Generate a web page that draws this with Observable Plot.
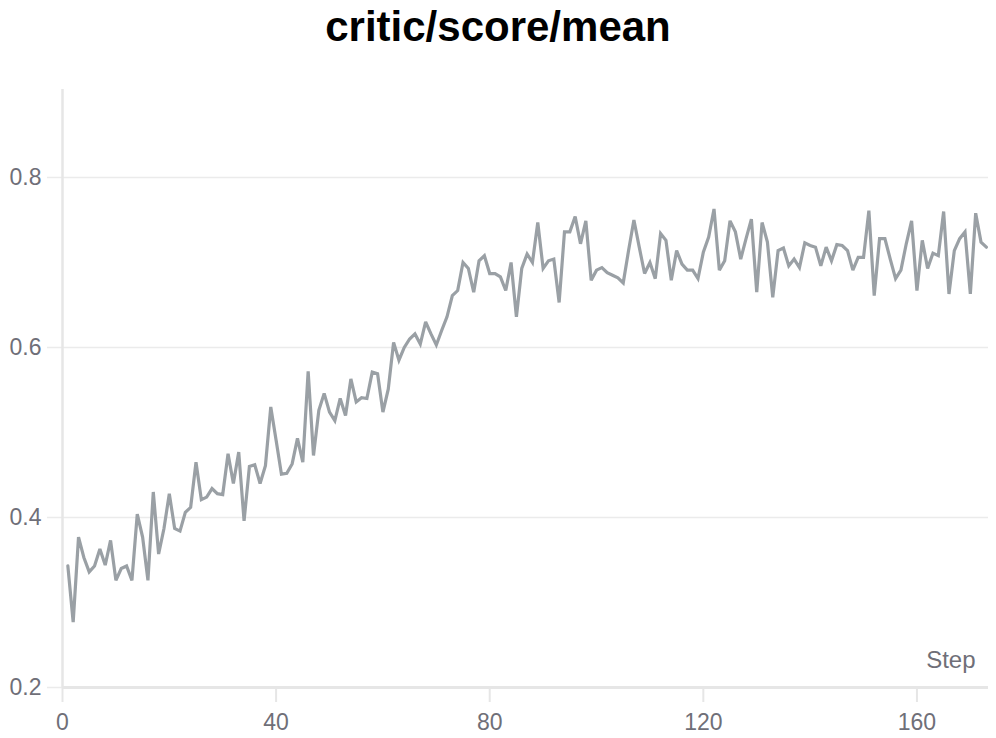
<!DOCTYPE html>
<html><head><meta charset="utf-8">
<script src="https://cdn.jsdelivr.net/npm/d3@7"></script>
<script src="https://cdn.jsdelivr.net/npm/@observablehq/plot@0.6"></script>
<style>
body{margin:0;background:#fff;font-family:"Liberation Sans",Arial,sans-serif;}
#title{height:70px;text-align:center;font-weight:bold;font-size:42px;line-height:54px;color:#000;}
</style></head><body>
<div id="title">critic/score/mean</div>
<div id="chart"></div>
<script>
const steps = d3.range(1, 174);
const scores = [
0.343,0.277,0.377,0.353,0.336,0.343,0.363,0.344,0.373,0.326,
0.340,0.343,0.326,0.404,0.377,0.326,0.430,0.357,0.387,0.428,
0.387,0.384,0.406,0.412,0.465,0.421,0.424,0.434,0.428,0.427,
0.475,0.440,0.477,0.396,0.460,0.462,0.440,0.461,0.530,0.491,
0.451,0.452,0.463,0.493,0.465,0.572,0.473,0.526,0.546,0.524,
0.514,0.540,0.520,0.563,0.536,0.541,0.540,0.571,0.569,0.524,
0.551,0.606,0.585,0.600,0.610,0.616,0.604,0.630,0.616,0.603,
0.620,0.636,0.661,0.667,0.700,0.693,0.665,0.702,0.708,0.687,
0.687,0.683,0.667,0.700,0.636,0.693,0.710,0.700,0.747,0.693,
0.702,0.704,0.653,0.736,0.736,0.754,0.722,0.749,0.679,0.691,
0.694,0.688,0.685,0.682,0.676,0.714,0.750,0.718,0.687,0.700,
0.681,0.734,0.726,0.679,0.714,0.698,0.691,0.691,0.681,0.712,
0.730,0.763,0.691,0.702,0.749,0.736,0.704,0.728,0.751,0.665,
0.747,0.724,0.659,0.714,0.717,0.696,0.704,0.694,0.723,0.720,
0.718,0.696,0.718,0.702,0.721,0.720,0.714,0.691,0.706,0.706,
0.761,0.661,0.728,0.728,0.704,0.681,0.691,0.722,0.749,0.667,
0.726,0.693,0.711,0.708,0.760,0.663,0.714,0.728,0.736,0.663,
0.758,0.724,0.718
];
const xTicks = [0, 40, 80, 120, 160];
const yTicks = [0.2, 0.4, 0.6, 0.8];
const xLabel = "Step";

const data = steps.map((s, i) => ({step: s, score: scores[i]}));

const plot = Plot.plot({
  width: 996, height: 668,
  marginLeft: 62, marginRight: 8, marginTop: 19, marginBottom: 51,
  style: {fontFamily: "Liberation Sans, Arial, sans-serif", background: "#fff", overflow: "visible"},
  x: {domain: [0, 173.4]},
  y: {domain: [0.2, 0.9035]},
  marks: [
    Plot.gridY(yTicks, {stroke: "#ebebeb", strokeOpacity: 1, strokeWidth: 1.5}),
    Plot.axisY(yTicks, {tickSize: 15, tickPadding: 6, stroke: "#ebebeb", strokeWidth: 1.5, fontSize: 23, fill: "#6f6f78", tickFormat: d => d.toFixed(1), label: null}),
    Plot.axisX(xTicks, {tickSize: 15, tickPadding: 11, stroke: "#e6e6e6", strokeWidth: 2, fontSize: 23, fill: "#6f6f78", label: null}),
    Plot.ruleX([0], {stroke: "#e6e6e6", strokeWidth: 2.5}),
    Plot.ruleY([0.2], {stroke: "#e6e6e6", strokeWidth: 3}),
    Plot.line(data, {x: "step", y: "score", stroke: "#9aa0a5", strokeWidth: 3.2, strokeLinejoin: "miter", strokeMiterlimit: 3}),
    Plot.text([xLabel], {text: d => d, frameAnchor: "bottom-right", dx: -13, dy: -20, fontSize: 24, fill: "#6f6f78"})
  ]
});
document.getElementById("chart").appendChild(plot);
</script>
</body></html>
